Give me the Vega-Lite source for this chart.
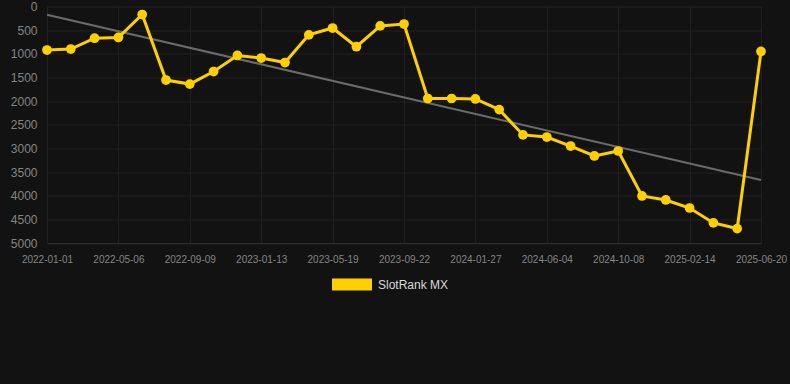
{
  "$schema": "https://vega.github.io/schema/vega-lite/v6.json",
  "autosize": "none",
  "width": 714,
  "height": 236.5,
  "padding": {"left": 47, "top": 6.5, "right": 29, "bottom": 141},
  "background": "#121212",
  "config": {
    "view": {"stroke": null},
    "font": "Liberation Sans"
  },
  "datasets": {
    "rank": [
      {"date": "2022-01-01", "rank": 920, "series": "SlotRank MX"},
      {"date": "2022-02-12", "rank": 900, "series": "SlotRank MX"},
      {"date": "2022-03-26", "rank": 670, "series": "SlotRank MX"},
      {"date": "2022-05-06", "rank": 655, "series": "SlotRank MX"},
      {"date": "2022-06-17", "rank": 170, "series": "SlotRank MX"},
      {"date": "2022-07-29", "rank": 1555, "series": "SlotRank MX"},
      {"date": "2022-09-09", "rank": 1640, "series": "SlotRank MX"},
      {"date": "2022-10-21", "rank": 1375, "series": "SlotRank MX"},
      {"date": "2022-12-02", "rank": 1035, "series": "SlotRank MX"},
      {"date": "2023-01-13", "rank": 1090, "series": "SlotRank MX"},
      {"date": "2023-02-24", "rank": 1185, "series": "SlotRank MX"},
      {"date": "2023-04-07", "rank": 600, "series": "SlotRank MX"},
      {"date": "2023-05-19", "rank": 455, "series": "SlotRank MX"},
      {"date": "2023-06-30", "rank": 850, "series": "SlotRank MX"},
      {"date": "2023-08-11", "rank": 410, "series": "SlotRank MX"},
      {"date": "2023-09-22", "rank": 370, "series": "SlotRank MX"},
      {"date": "2023-11-03", "rank": 1945, "series": "SlotRank MX"},
      {"date": "2023-12-15", "rank": 1945, "series": "SlotRank MX"},
      {"date": "2024-01-27", "rank": 1955, "series": "SlotRank MX"},
      {"date": "2024-03-09", "rank": 2180, "series": "SlotRank MX"},
      {"date": "2024-04-22", "rank": 2715, "series": "SlotRank MX"},
      {"date": "2024-06-04", "rank": 2760, "series": "SlotRank MX"},
      {"date": "2024-07-16", "rank": 2950, "series": "SlotRank MX"},
      {"date": "2024-08-27", "rank": 3160, "series": "SlotRank MX"},
      {"date": "2024-10-08", "rank": 3055, "series": "SlotRank MX"},
      {"date": "2024-11-20", "rank": 4005, "series": "SlotRank MX"},
      {"date": "2025-01-02", "rank": 4090, "series": "SlotRank MX"},
      {"date": "2025-02-14", "rank": 4260, "series": "SlotRank MX"},
      {"date": "2025-03-28", "rank": 4575, "series": "SlotRank MX"},
      {"date": "2025-05-09", "rank": 4695, "series": "SlotRank MX"},
      {"date": "2025-06-20", "rank": 950, "series": "SlotRank MX"}
    ],
    "trend": [
      {"date": "2022-01-01", "rank": 173},
      {"date": "2025-06-20", "rank": 3670}
    ]
  },
  "encoding": {
    "x": {
      "field": "date",
      "type": "ordinal",
      "scale": {"type": "point", "padding": 0},
      "axis": {
        "title": null,
        "values": ["2022-01-01", "2022-05-06", "2022-09-09", "2023-01-13", "2023-05-19", "2023-09-22", "2024-01-27", "2024-06-04", "2024-10-08", "2025-02-14", "2025-06-20"],
        "labelAngle": 0,
        "labelFontSize": 10,
        "labelColor": "#858585",
        "labelPadding": 11,
        "ticks": false,
        "domainColor": "#2c2c2c",
        "grid": true,
        "gridColor": "#202020",
        "labelFont": "Liberation Sans"
      }
    },
    "y": {
      "field": "rank",
      "type": "quantitative",
      "scale": {"domain": [0, 5000], "reverse": true, "nice": false},
      "axis": {
        "title": null,
        "format": "d",
        "values": [0, 500, 1000, 1500, 2000, 2500, 3000, 3500, 4000, 4500, 5000],
        "labelFontSize": 12,
        "labelColor": "#858585",
        "labelPadding": 10,
        "ticks": false,
        "domain": false,
        "gridColor": "#202020",
        "labelFont": "Liberation Sans"
      }
    }
  },
  "layer": [
    {
      "data": {"name": "trend"},
      "mark": {"type": "line", "color": "#6b6b6b", "strokeWidth": 2}
    },
    {
      "data": {"name": "rank"},
      "mark": {"type": "line", "strokeWidth": 3},
      "encoding": {
        "color": {
          "field": "series",
          "type": "nominal",
          "scale": {"range": ["#ffd000"]},
          "legend": {
            "title": null,
            "orient": "none",
            "legendX": 285,
            "legendY": 258,
            "symbolType": "M-1,-0.3H1V0.3H-1Z",
            "symbolSize": 1600,
            "symbolFillColor": "#ffd000",
            "symbolStrokeWidth": 0,
            "labelColor": "#d8d8d8",
            "labelFontSize": 12,
            "labelFont": "Liberation Sans",
            "labelOffset": 6
          }
        }
      }
    },
    {
      "data": {"name": "rank"},
      "mark": {"type": "circle", "size": 95, "opacity": 1},
      "encoding": {
        "color": {"field": "series", "type": "nominal"}
      }
    }
  ]
}
